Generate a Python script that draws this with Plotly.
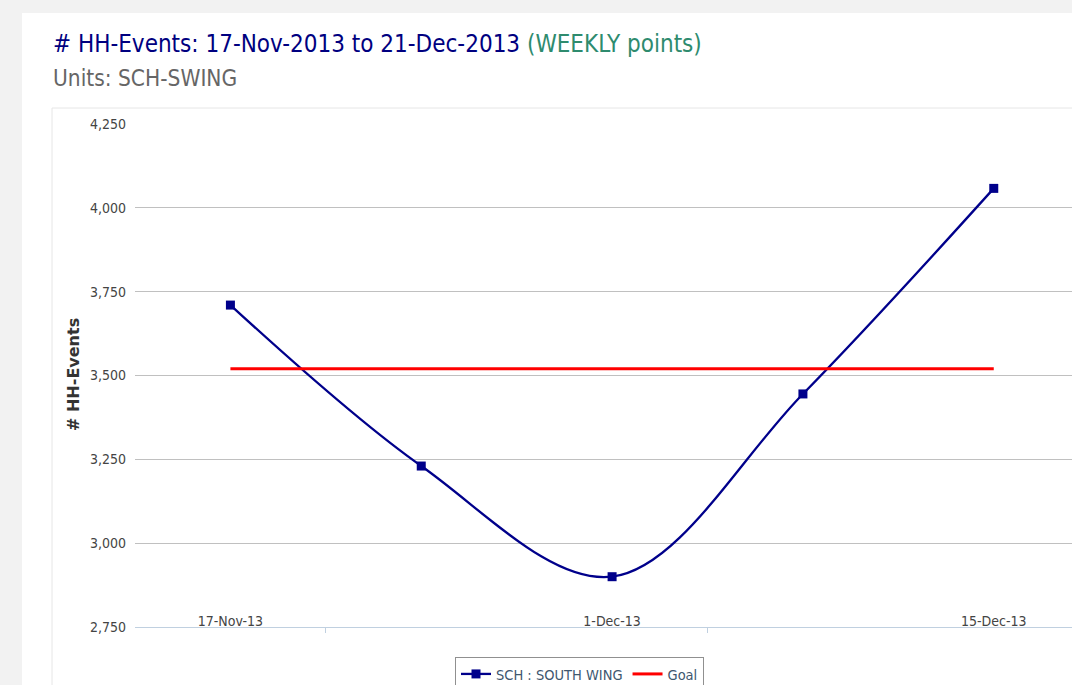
import plotly.graph_objects as go

# ---- data ----
categories = ["17-Nov-13", "24-Nov-13", "1-Dec-13", "8-Dec-13", "15-Dec-13"]
south_wing = [3710, 3230, 2900, 3445, 4058]
goal = [3520, 3520, 3520, 3520, 3520]
label_ticks = ["17-Nov-13", "1-Dec-13", "15-Dec-13"]
y_ticks = [2750, 3000, 3250, 3500, 3750, 4000, 4250]

W, H = 1072, 685
L, R, T, B = 135, 0, 124, 58
PW, PH = W - L - R, H - T - B


def px(x):
    return (x - L) / PW


def py(y):
    return (H - B - y) / PH


FONT = "DejaVu Sans Condensed, DejaVu Sans, sans-serif"
NAVY = "#00008B"

fig = go.Figure()
fig.add_trace(go.Scatter(
    x=categories, y=south_wing, name="SCH : SOUTH WING",
    mode="lines+markers", line=dict(color=NAVY, width=2.3, shape="spline", smoothing=1.0),
    marker=dict(symbol="square", size=9, color=NAVY, line=dict(width=0)),
))
fig.add_trace(go.Scatter(
    x=categories, y=goal, name="Goal", mode="lines",
    line=dict(color="#FF0000", width=3),
))
# empty trace on helper axis carrying the boundary tick marks
fig.add_trace(go.Scatter(x=[], y=[], xaxis="x2", showlegend=False, hoverinfo="skip"))

fig.update_layout(
    width=W, height=H,
    margin=dict(l=L, r=R, t=T, b=B, pad=0, autoexpand=False),
    paper_bgcolor="#f2f2f2", plot_bgcolor="rgba(0,0,0,0)",
    font=dict(family=FONT, color="#444444", size=14),
    showlegend=True,
    legend=dict(
        orientation="h", x=px(455), y=py(657), xanchor="left", yanchor="top",
        bgcolor="white", bordercolor="#909090", borderwidth=1,
        font=dict(family=FONT, size=14.5, color="#3e576f"),
        itemwidth=30, tracegroupgap=0,
    ),
    xaxis=dict(
        type="category", range=[-0.5, 4.41], tickmode="array",
        tickvals=label_ticks, ticktext=label_ticks,
        ticklabelposition="outside", ticklabelstandoff=-19, ticks="", showgrid=False,
        showline=True, linecolor="#C0D0E0", linewidth=1, zeroline=False,
        tickfont=dict(size=14, color="#444444"), fixedrange=True,
    ),
    xaxis2=dict(
        overlaying="x", anchor="y", side="bottom", range=[-0.5, 4.41],
        tickmode="array", tickvals=[0.5, 2.5], showticklabels=False,
        ticks="outside", ticklen=5, tickcolor="#C0D0E0", tickwidth=1,
        showgrid=False, showline=False, zeroline=False,
    ),
    yaxis=dict(
        range=[2750, 4250], tickmode="array", tickvals=y_ticks,
        tickformat=",", showgrid=True, gridcolor="#C0C0C0", gridwidth=1,
        zeroline=False, showline=False, ticks="", ticklabelstandoff=8,
        tickfont=dict(size=14, color="#444444"),
    ),
)

# page panels
fig.add_shape(type="rect", xref="paper", yref="paper", layer="below",
              x0=px(22), x1=px(W + 20), y0=py(13), y1=py(H + 20),
              fillcolor="white", line=dict(width=0))
fig.add_shape(type="rect", xref="paper", yref="paper", layer="below",
              x0=px(52), x1=px(W + 20), y0=py(108), y1=py(H + 20),
              fillcolor="white", line=dict(color="#e6e6e6", width=1))

# titles
fig.add_annotation(
    xref="paper", yref="paper", x=px(51), y=py(44), xanchor="left", yanchor="middle",
    showarrow=False, font=dict(family=FONT, size=24, color="#000080"),
    text="# HH-Events: 17-Nov-2013 to 21-Dec-2013 <span style='color:#2e8b6e'>(WEEKLY points)</span>",
)
fig.add_annotation(
    xref="paper", yref="paper", x=px(51), y=py(78), xanchor="left", yanchor="middle",
    showarrow=False, font=dict(family=FONT, size=22.5, color="#666666"),
    text="Units: SCH-SWING",
)
fig.add_annotation(
    xref="paper", yref="paper", x=px(73), y=py(375), xanchor="center", yanchor="middle",
    showarrow=False, textangle=-90,
    font=dict(family="DejaVu Sans, sans-serif", size=16, color="#333333"),
    text="<b># HH-Events</b>",
)

fig.write_html(
    "out.html",
    config={"displayModeBar": False},
    post_script="document.body.style.margin='0';document.body.style.overflow='hidden';",
)
